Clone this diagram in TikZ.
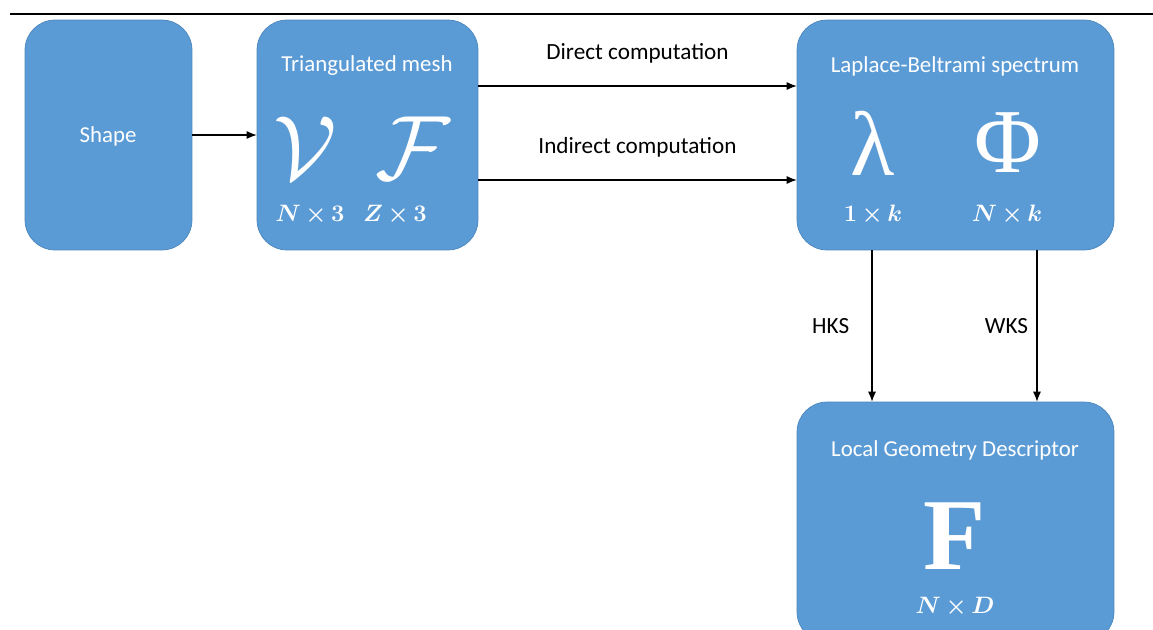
\RequirePackage{fix-cm}
\documentclass[tikz,border=0pt]{standalone}
\usepackage{amsmath,bm}
\usepackage{fontspec}
\setmainfont{Carlito}
\newfontfamily\symserif{Liberation Serif}
\usepackage{tikz}
\usetikzlibrary{arrows.meta,positioning,calc}
\definecolor{BoxBlue}{HTML}{5B9BD5}
\definecolor{BoxEdge}{HTML}{4A85BC}

\begin{document}
\begin{tikzpicture}[x=0.02cm,y=-0.02cm,
  blk/.style={draw=BoxEdge,thin,fill=BoxBlue,rounded corners=6mm,minimum height=4.6cm},
  ttl/.style={text=white,font=\fontsize{13}{15}\selectfont},
  sym/.style={text=white,inner sep=0pt},
  dimlbl/.style={text=white,font=\fontsize{13.5}{15}\selectfont},
  flow/.style={-{Latex[length=2mm,width=1.6mm]},semithick},
  lbl/.style={font=\fontsize{13.2}{15}\selectfont}]
\useasboundingbox (0,0) rectangle (1153,629);
\clip (0,0) rectangle (1153,629);
\draw[line width=1.3pt] (10,14) -- (1153,14);

% boxes
\node[blk,minimum width=3.34cm] (shape) at (108.5,135) {};
\node[blk,minimum width=4.42cm] (mesh) at (367.5,135) {};
\node[blk,minimum width=6.34cm] (lb) at (955.5,135) {};
\node[blk,minimum width=6.34cm,minimum height=4.8cm] (lgd) at (955.5,522) {};

% shape
\node[ttl] (shapettl) at (108,136) {Shape};

% triangulated mesh
\node[ttl] (meshttl) at (367,66) {Triangulated mesh};
\node[sym,font=\fontsize{52}{52}\selectfont] (symV) at (305,148) {$\mathcal{V}$};
\node[sym,font=\fontsize{52}{52}\selectfont] (symF) at (413,148) {$\mathcal{F}$};
\node[dimlbl] (dimV) at (310,215) {$\bm{N{\,\times\,}3}$};
\node[dimlbl] (dimF) at (395,215) {$\bm{Z{\,\times\,}3}$};

% spectrum
\node[ttl] (lbttl) at (955,66) {Laplace-Beltrami spectrum};
\node[sym,font=\fontsize{52}{52}\symserif] (lam) at (873,143) {λ};
\node[sym,font=\fontsize{52}{52}\symserif] (phi) at (1008,143) {Φ};
\node[dimlbl] (dimlam) at (873,215) {$\bm{1{\,\times\,}k}$};
\node[dimlbl] (dimphi) at (1007,215) {$\bm{N{\,\times\,}k}$};

% descriptor
\node[ttl] (lgdttl) at (955,450) {Local Geometry Descriptor};
\node[sym,font=\fontsize{58}{58}\symserif\bfseries] (bigF) at (955,536) {F};
\node[dimlbl] (dimND) at (955,607) {$\bm{N{\,\times\,}D}$};

% connectors
\draw[flow] (shape) -- (mesh);
\draw[flow] ($(mesh.east)+(0,-49)$) -- node[lbl,above=3.3mm] (dirlbl) {Direct computation} ($(lb.west)+(0,-49)$);
\draw[flow] ($(mesh.east)+(0,45)$) -- node[lbl,above=3.3mm] (indlbl) {Indirect computation} ($(lb.west)+(0,45)$);
\draw[flow] ([xshift=-1.67cm]lb.south) -- node[lbl,left=3.3mm] (hkslbl) {HKS} ([xshift=-1.67cm]lgd.north);
\draw[flow] ([xshift=1.63cm]lb.south) -- node[lbl,left=0.5mm] (wkslbl) {WKS} ([xshift=1.63cm]lgd.north);
\end{tikzpicture}
\end{document}
